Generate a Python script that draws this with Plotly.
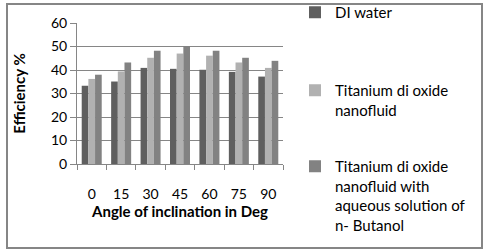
import plotly.graph_objects as go

angles = ["0", "15", "30", "45", "60", "75", "90"]
di_water = [33.3, 35.1, 40.9, 40.5, 40.1, 39.2, 37.2]
tio2 = [36.2, 39.4, 45.2, 47.0, 46.1, 43.2, 40.9]
tio2_butanol = [38.0, 43.2, 48.2, 50.2, 48.2, 45.2, 43.9]

series_names = [
    "DI water",
    "Titanium di oxide<br>nanofluid",
    "Titanium di oxide<br>nanofluid with<br>aqueous solution of<br>n- Butanol",
]
series_values = [di_water, tio2, tio2_butanol]
series_colors = ["#5f5f5f", "#b1b1b1", "#828282"]
legend_ids = ["legend", "legend2", "legend3"]
legend_tops_px = [-4, 74, 150]

FONT = "Lato"
L, T, W, H = 77, 23, 206, 141

fig = go.Figure()
for name, vals, col, lid in zip(series_names, series_values, series_colors, legend_ids):
    fig.add_trace(go.Bar(x=angles, y=vals, name=name, marker_color=col,
                         marker_line_width=0, legend=lid))

legend_x = (295 - L) / W
legend_common = dict(x=legend_x, xanchor="left", yanchor="top",
                     font=dict(family=FONT, size=15, color="#000000"),
                     valign="top", itemwidth=30, bgcolor="rgba(0,0,0,0)")

fig.update_layout(
    width=486, height=252,
    margin=dict(l=L, r=486 - L - W, t=T, b=252 - T - H, autoexpand=False),
    paper_bgcolor="white", plot_bgcolor="white",
    barmode="group", bargap=0.32, bargroupgap=0,
    font=dict(family=FONT, size=14, color="#000000"),
    showlegend=True,
    legend=dict(y=1 + (T - legend_tops_px[0]) / H, **legend_common),
    legend2=dict(y=1 + (T - legend_tops_px[1]) / H, **legend_common),
    legend3=dict(y=1 + (T - legend_tops_px[2]) / H, **legend_common),
    xaxis=dict(type="category", showline=True, linecolor="#868686", linewidth=1,
               ticks="outside", tickson="boundaries", ticklen=5, tickcolor="#868686",
               ticklabelstandoff=17,
               tickfont=dict(family=FONT, size=14),
               title=dict(text="<b>Angle of inclination in Deg</b>", standoff=0,
                          font=dict(family=FONT, size=15))),
    yaxis=dict(range=[0, 60], dtick=10, showline=True, linecolor="#868686", linewidth=1,
               ticks="outside", ticklen=6, tickcolor="#868686",
               showgrid=True, gridcolor="#868686", gridwidth=1, zeroline=False,
               tickfont=dict(family=FONT, size=14),
               title=dict(text="<b>Efficiency %</b>", standoff=21,
                          font=dict(family=FONT, size=15))),
    shapes=[dict(type="rect", xref="paper", yref="paper",
                 x0=(7 - L) / W, x1=(482 - L) / W,
                 y0=-(248 - T - H) / H, y1=1 + (T - 4) / H,
                 line=dict(color="#868686", width=2), fillcolor="rgba(0,0,0,0)",
                 layer="below")],
)

fig.write_html("out.html", config={"displayModeBar": False},
               post_script="document.body.style.margin='0';")
